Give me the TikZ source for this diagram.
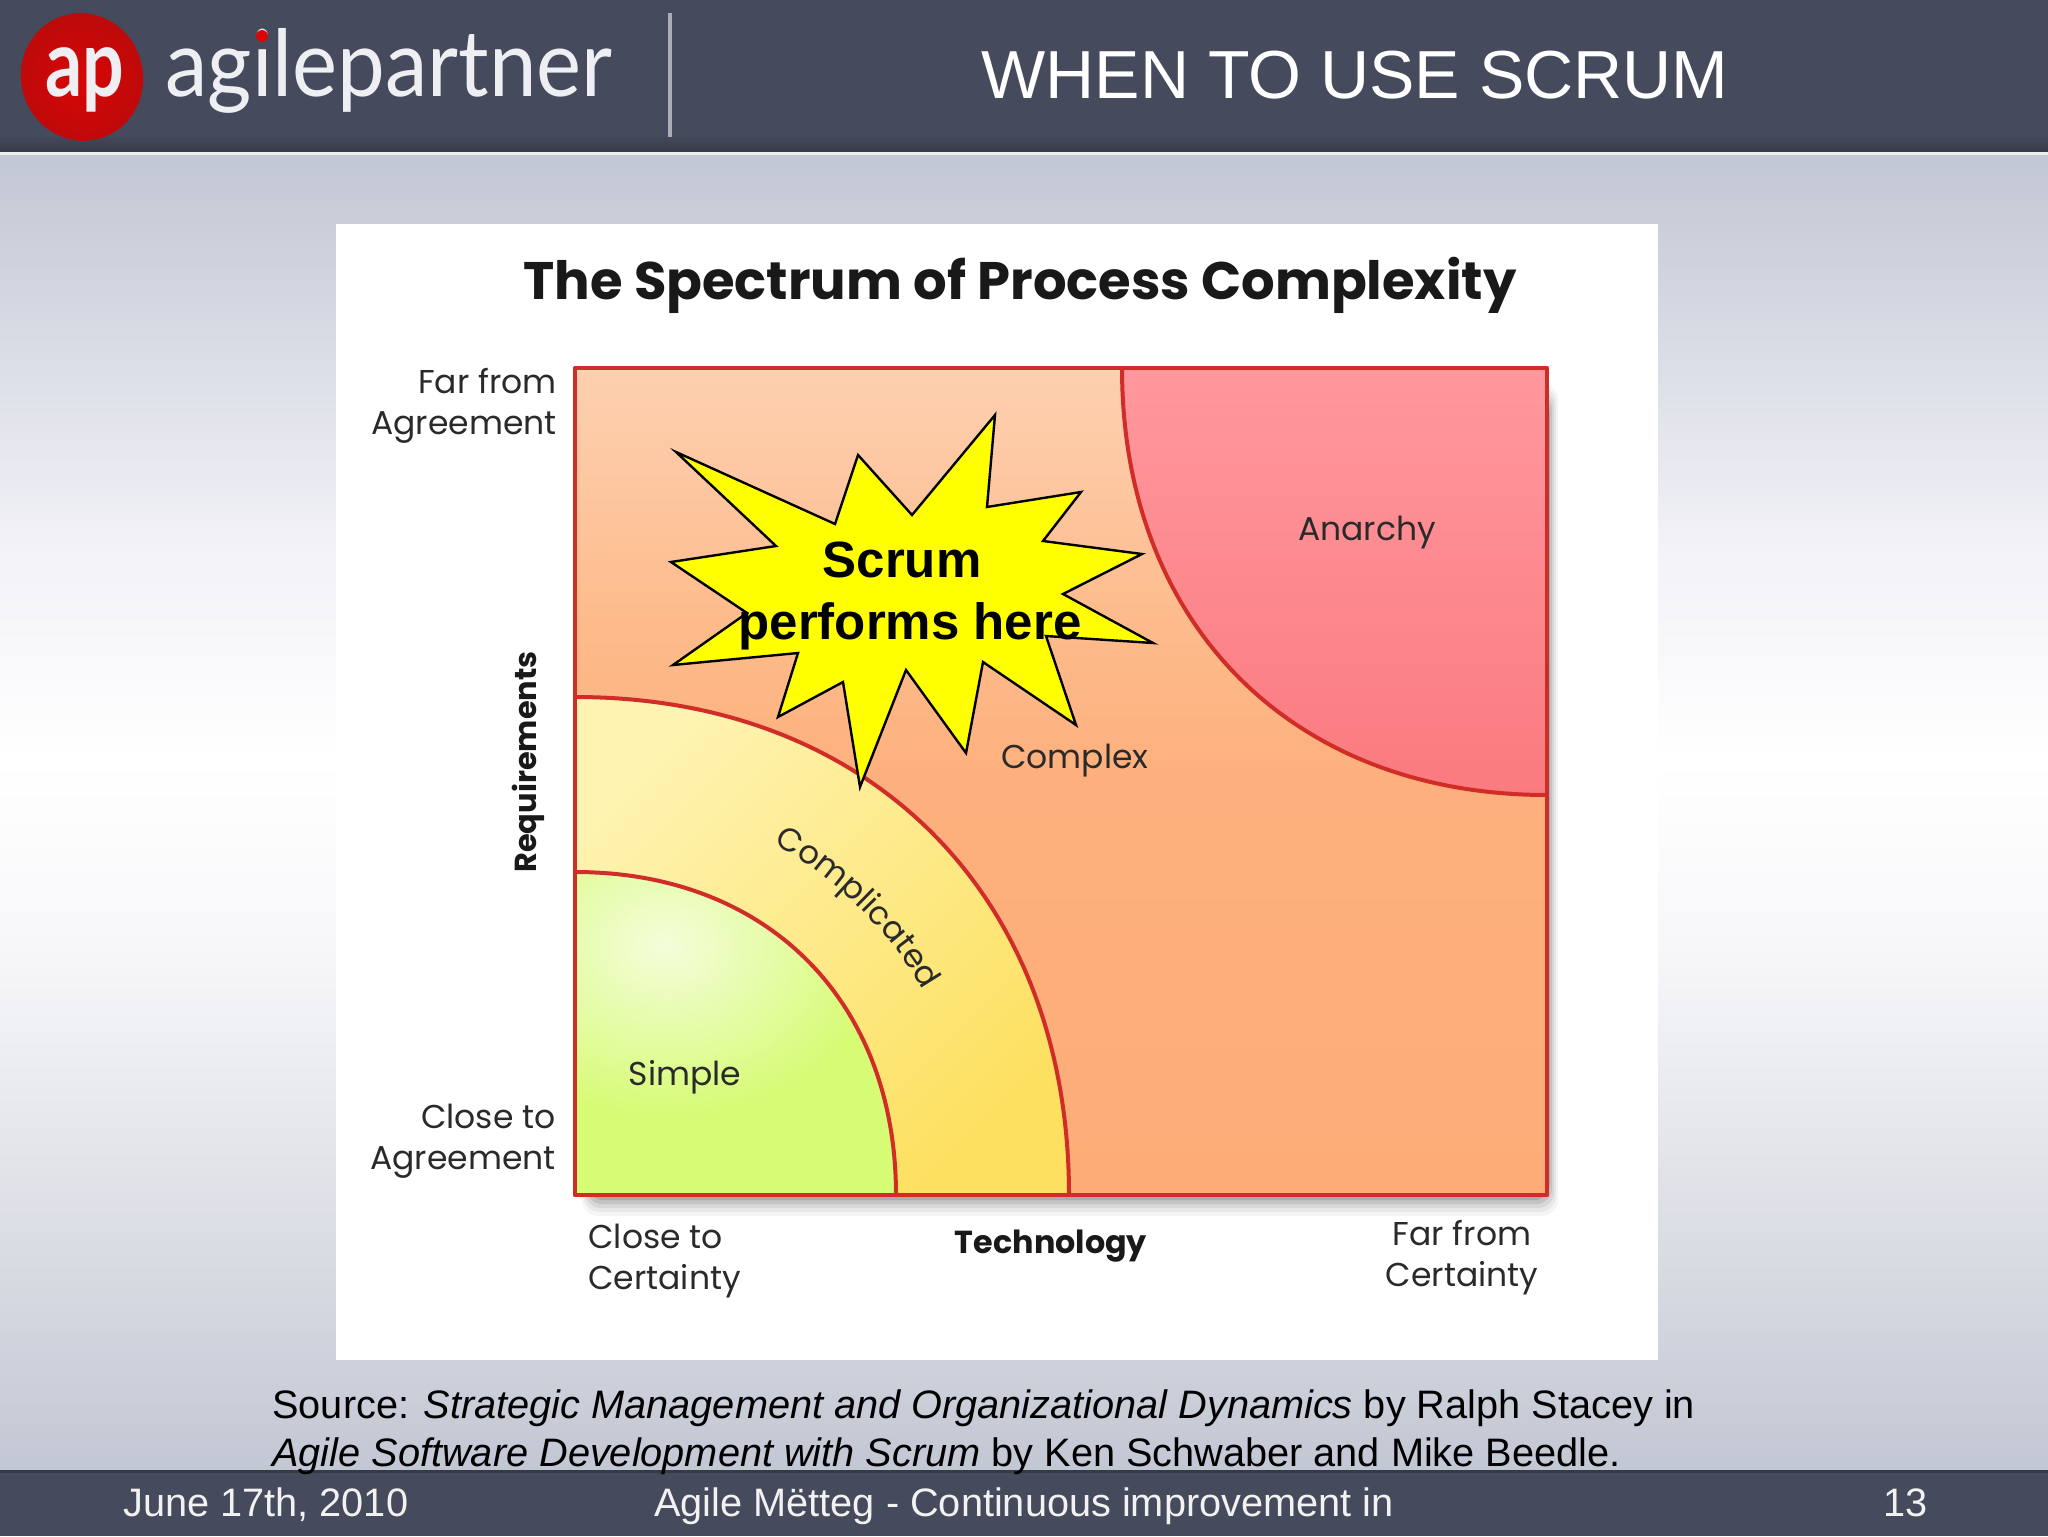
\documentclass[tikz,border=0pt]{standalone}
\usepackage{fontspec}
\usepackage{graphicx}
\setmainfont{Liberation Sans}
\newfontfamily\chartfont{Poppins}
\newfontfamily\logofont{Lato}
\usetikzlibrary{decorations.text}
\definecolor{hdr}{HTML}{454A5C}
\definecolor{hdrd}{HTML}{363A47}
\definecolor{redline}{HTML}{D02C28}
\definecolor{chartink}{HTML}{2A2A2A}
\definecolor{logored}{HTML}{D80606}
\definecolor{logoedge}{HTML}{BC0A0A}
\definecolor{logotxt}{HTML}{EDEFF3}
\definecolor{starfill}{HTML}{FFFF00}
\definecolor{simplegreen}{HTML}{D6FB74}
\definecolor{simplelight}{HTML}{F4FDDA}
\definecolor{anarchytop}{HTML}{FF989E}
\definecolor{anarchybot}{HTML}{FA7A7F}
\definecolor{complicatedtop}{HTML}{FEF3B0}
\definecolor{complicatedbot}{HTML}{FDE060}
\pgfdeclareverticalshading{slidebg}{100bp}{
 rgb(0bp)=(0.76,0.78,0.83);
 rgb(25bp)=(0.76,0.78,0.83);
 rgb(32bp)=(0.84,0.85,0.88);
 rgb(45bp)=(0.97,0.97,0.98);
 rgb(52bp)=(1,1,1);
 rgb(60bp)=(0.95,0.95,0.97);
 rgb(75bp)=(0.76,0.78,0.83);
 rgb(100bp)=(0.76,0.78,0.83)}
\pgfdeclareverticalshading{complexbg}{100bp}{
 rgb(0bp)=(0.992,0.675,0.47);
 rgb(25bp)=(0.992,0.675,0.47);
 rgb(50bp)=(0.992,0.69,0.49);
 rgb(60bp)=(0.992,0.735,0.55);
 rgb(68bp)=(0.992,0.78,0.63);
 rgb(75bp)=(0.992,0.815,0.69);
 rgb(100bp)=(0.992,0.815,0.69)}
\tikzset{
 x=0.5pt,y=-0.5pt,
 chartlabel/.style={font=\chartfont\fontsize{16.5pt}{20.5pt}\selectfont,text=chartink,inner sep=0pt,align=center},
 chartbold/.style={font=\chartfont\bfseries\fontsize{15.9pt}{20.5pt}\selectfont,text=black!90,inner sep=0pt},
 slidetext/.style={font=\fontsize{19.85pt}{24pt}\selectfont,text=black,inner sep=0pt,anchor=base west},
 foottext/.style={font=\fontsize{19.85pt}{24pt}\selectfont,text=white!95!black,inner sep=0pt,anchor=base},
 regionline/.style={draw=redline,line width=2pt,line join=round}
}
\begin{document}
\begin{tikzpicture}
\useasboundingbox (0,0) rectangle (2048,1536);
% slide background
\shade[shading=slidebg] (0,153) rectangle (2048,1472);
% header and footer
\fill[hdr] (0,0) rectangle (2048,135);
\shade[top color=hdr,bottom color=hdrd] (0,135) rectangle (2048,152);
\fill[white!90!hdr] (0,152) rectangle (2048,155);
\fill[hdr] (0,1470) rectangle (2048,1536);
\fill[hdrd] (0,1470) rectangle (2048,1473);
% logo
\shade[inner color=logored,outer color=logoedge,rotate around={15:(82,77)}] (82,77) ellipse[x radius=61,y radius=64];
\node[inner sep=0pt,text=logotxt,anchor=base] (apmark) at (85,97) {\scalebox{0.94}[1.2]{\logofont\bfseries\fontsize{39pt}{39pt}\selectfont ap}};
\node[inner sep=0pt,text=logotxt,anchor=base west] (apname) at (165,97) {\scalebox{0.968}[1.05]{\logofont\fontsize{44pt}{44pt}\selectfont agilepartner}};
\fill[logored] (262,36) circle[radius=6];
\fill[white!55!hdr] (668,13) rectangle (672,137);
\node[inner sep=0pt,text=white,font=\fontsize{34pt}{36pt}\selectfont] (title) at (1355,75) {WHEN TO USE SCRUM};
% white panel
\fill[white] (336,224) rectangle (1658,1360);
\node[font=\chartfont\bfseries\fontsize{26.4pt}{30pt}\selectfont,text=black!90,inner sep=0pt] (charttitle) at (1020,285) {The Spectrum of Process Complexity};
% soft shadow of the square
\foreach \d/\o in {16/0.04,13/0.05,10/0.07,7/0.09,4/0.12}{
  \fill[black,opacity=\o,rounded corners=8pt] (590-\d/2,400-\d) rectangle (1547+\d*0.7,1195+\d*1.3);
}
% complex
\shade[shading=complexbg] (575,368) rectangle (1547,1195);
% anarchy
\shade[top color=anarchytop,bottom color=anarchybot] (1122,368) .. controls (1122,624.2) and (1292,795) .. (1547,795) -- (1547,368) -- cycle;
\draw[regionline] (1122,368) .. controls (1122,624.2) and (1292,795) .. (1547,795);
% complicated
\shade[left color=complicatedtop,right color=complicatedbot,shading angle=45] (575,697) .. controls (871.4,697) and (1069,896.2) .. (1069,1195) -- (575,1195) -- cycle;
\draw[regionline] (575,697) .. controls (871.4,697) and (1069,896.2) .. (1069,1195);
% simple
\begin{scope}
\clip (575,872) .. controls (767.6,872) and (896,1001.2) .. (896,1195) -- (575,1195) -- cycle;
\fill[simplegreen] (575,860) rectangle (900,1200);
\shade[inner color=simplelight,outer color=simplegreen] (665,945) ellipse[x radius=220,y radius=175];
\end{scope}
\draw[regionline] (575,872) .. controls (767.6,872) and (896,1001.2) .. (896,1195);
% outer frame
\draw[regionline,line width=2.4pt] (575,368) rectangle (1547,1195);
% chart labels
\node[chartlabel,align=right,anchor=east] (farag) at (557,406) {Far from\\Agreement};
\node[chartlabel,align=right,anchor=east] (closeag) at (556,1141) {Close to\\Agreement};
\node[chartlabel,align=left,anchor=west] (closecert) at (588,1261) {Close to\\Certainty};
\node[chartlabel] (farcert) at (1462,1258) {Far from\\Certainty};
\node[chartbold] (tech) at (1051,1246) {Technology};
\node[chartbold,font=\chartfont\bfseries\fontsize{15.2pt}{20pt}\selectfont,rotate=90] (req) at (528,762) {Requirements};
\node[chartlabel] (anarchy) at (1367,533) {Anarchy};
\node[chartlabel] (complex) at (1075,761) {Complex};
\node[chartlabel] (simple) at (685,1077) {Simple};
\path[decorate,decoration={text along path,text align=center,
  text={|\chartfont\fontsize{16.2pt}{20pt}\selectfont\color{chartink}|Complicated}}]
  (575,1195) ++(-77:404) arc[start angle=-77,end angle=-14,radius=404];
% star
\draw[fill=starfill,draw=black,line width=1.2pt,line join=miter]
 (676,452)--(835,524)--(858,455)--(912,515)--(995,415)--(987,507)--(1081,492)--(1043,541)
 --(1142,554)--(1063,594)--(1153,643)--(1046,636)--(1076,725)--(983,662)--(966,753)--(906,670)
 --(860,787)--(843,682)--(778,717)--(798,653)--(673,665)--(747,613)--(671,562)--(776,546)--cycle;
\node[inner sep=0pt,font=\bfseries\fontsize{25.5pt}{30pt}\selectfont] (scrum) at (902,560) {Scrum};
\node[inner sep=0pt,font=\bfseries\fontsize{25.5pt}{30pt}\selectfont] (performs) at (910,626) {performs here};
% source
\node[slidetext] (src1) at (272,1418) {Source: \textit{Strategic Management and Organizational Dynamics} by Ralph Stacey in};
\node[slidetext] (src2) at (272,1466) {\textit{Agile Software Development with Scrum} by Ken Schwaber and Mike Beedle.};
% footer
\node[foottext,anchor=base west] (fdate) at (123,1516) {June 17th, 2010};
\node[foottext,anchor=base west] (fname) at (654,1516) {Agile Mëtteg - Continuous improvement in};
\node[foottext,anchor=base west] (fnum) at (1883,1516) {13};
\end{tikzpicture}
\end{document}
